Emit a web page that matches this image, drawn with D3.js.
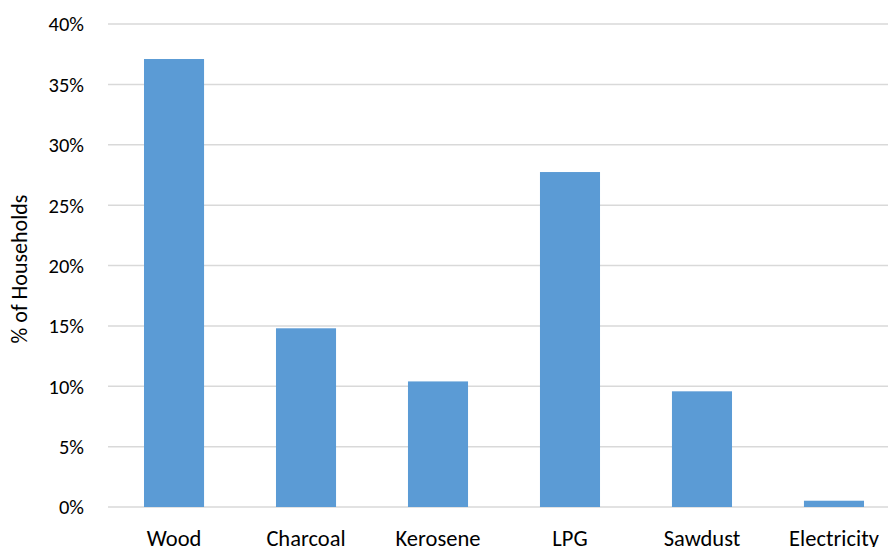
<!DOCTYPE html>
<html>
<head>
<meta charset="utf-8">
<script src="https://cdn.jsdelivr.net/npm/d3@7"></script>
<style>
  body { margin: 0; background: #fff; overflow: hidden; }
  svg text { font-family: Carlito, Calibri, Lato, "Open Sans", sans-serif; fill: #000; }
</style>
</head>
<body>
<div id="chart"></div>
<script>
// data
var categories = ["Wood", "Charcoal", "Kerosene", "LPG", "Sawdust", "Electricity"];
var shares = [0.371, 0.148, 0.104, 0.2774, 0.0958, 0.0052];
var tickValues = [0, 0.05, 0.10, 0.15, 0.20, 0.25, 0.30, 0.35, 0.40];
var yTitle = "% of Households";

// chart dimensions
var width = 888;
var height = 547;
var plotLeft = 108, plotRight = 900, plotTop = 24, plotBottom = 507;

var svg = d3.select('#chart')
  .append('svg')
  .attr('width', width)
  .attr('height', height)
  .style('display', 'block');

var x = d3.scaleBand()
  .domain(categories)
  .range([plotLeft, plotRight])
  .paddingInner(0.545)
  .paddingOuter(0.2727);

var y = d3.scaleLinear()
  .domain([0, 0.4])
  .range([plotBottom, plotTop]);

// gridlines
svg.append('g')
  .selectAll('line')
  .data(tickValues)
  .enter()
  .append('line')
  .attr('x1', plotLeft)
  .attr('x2', plotRight)
  .attr('y1', function(d) { return y(d); })
  .attr('y2', function(d) { return y(d); })
  .attr('stroke', '#d9d9d9')
  .attr('stroke-width', 1.5);

// bars
svg.append('g')
  .selectAll('rect')
  .data(shares)
  .enter()
  .append('rect')
  .attr('x', function(d, i) { return x(categories[i]); })
  .attr('width', x.bandwidth())
  .attr('y', function(d) { return y(d); })
  .attr('height', function(d) { return y(0) - y(d); })
  .attr('fill', '#5b9bd5');

// y tick labels
svg.append('g')
  .selectAll('text')
  .data(tickValues)
  .enter()
  .append('text')
  .attr('x', 84)
  .attr('y', function(d) { return y(d); })
  .attr('dy', '0.36em')
  .attr('text-anchor', 'end')
  .style('font-size', '20.5px')
  .text(function(d) { return d3.format('.0%')(d); });

// x labels (bottom of text runs past the picture edge, as in the original)
svg.append('g')
  .selectAll('text')
  .data(categories)
  .enter()
  .append('text')
  .attr('x', function(d) { return x(d) + x.bandwidth() / 2; })
  .attr('y', 545.5)
  .attr('text-anchor', 'middle')
  .style('font-size', '22.5px')
  .text(function(d) { return d; });

// y axis title
svg.append('text')
  .attr('transform', 'translate(27,269) rotate(-90)')
  .attr('text-anchor', 'middle')
  .style('font-size', '22px')
  .text(yTitle);
</script>
</body>
</html>
